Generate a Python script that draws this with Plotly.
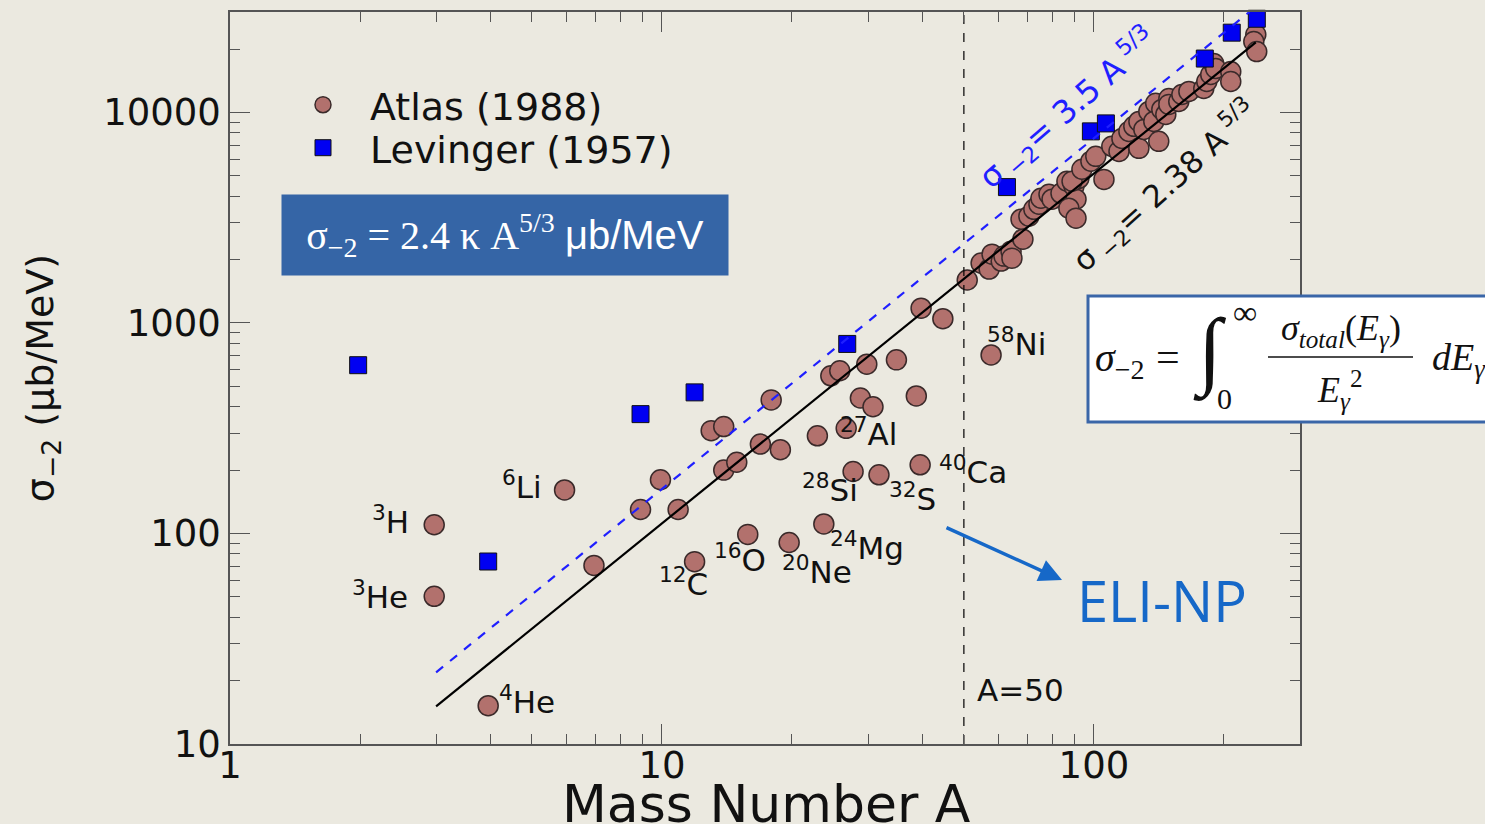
import plotly.graph_objects as go

# ---------------- data ----------------
atlas_A = [2.97, 2.97, 3.96, 5.95, 6.96, 8.92, 9.92, 10.9, 11.9, 13.0, 13.9, 13.9, 14.9, 15.8,
           16.9, 17.9, 18.8, 19.7, 22.9, 23.7, 24.6, 25.8, 26.7, 27.7, 28.8, 29.8, 30.8, 31.8,
           34.9, 38.8, 39.6, 39.8, 44.7, 57.8,
           50.9, 54.8, 57.2, 58.1, 61.0, 61.9, 64.3, 64.6, 68.5, 67.8, 70.7, 72.6, 74.6, 75.4,
           78.7, 80.0, 83.9, 86.6, 89.9, 90.9, 87.5, 90.9, 92.3, 89.0, 93.8, 98.4, 101, 105.5,
           110, 114.3, 116.1, 120.5, 123.7, 127.1, 127.1, 130.5, 134, 139, 137.6, 141.3, 143.6,
           146.7, 149.1, 149.1, 157.2, 159.8, 165.9, 179.6, 182.5, 186.4, 189.4, 191.4, 207.4,
           207.4, 237, 234.5, 238.2]
atlas_sigma = [110, 50.3, 15.2, 161, 70.5, 130, 180, 130, 73.5, 308, 322, 200, 218, 99,
               266, 431, 250, 90.6, 291, 111, 561, 593, 316, 197, 440, 637, 400, 190,
               668, 450, 212, 1175, 1048, 705,
               1600, 1925, 1803, 2123, 1968, 2078, 2193, 2032, 2500, 3110, 3215, 3467, 3664, 3911,
               4085, 3872, 4130, 4710, 4460, 3872, 3508, 3146, 4864, 4710, 5372, 5865, 6187, 4808,
               6904, 6530, 7530, 8128, 8590, 9064, 6750, 8300, 10110, 11050, 9064, 7289, 10330,
               9783, 11650, 10920, 11270, 12170, 12580, 12990, 14030, 15140, 17070, 16170, 15630,
               14030, 23430, 21700, 19450]

lev_A = [1.98, 3.96, 8.92, 11.9, 26.85, 62.9, 98.4, 106.6, 180.6, 208.5, 238.3]
lev_sigma = [630, 73.6, 369, 468, 795, 4420, 8130, 8870, 18030, 23930, 27860]

fit_atlas_A = [3, 237]          # sigma_-2 = 2.38 A^5/3 (end points)
fit_atlas_sigma = [15.1, 21500]
fit_lev_A = [3, 229]            # sigma_-2 = 3.5 A^5/3
fit_lev_sigma = [21.9, 30000]
cut_A = [50, 50]
cut_sigma = [10, 30000]

x_tickvals = [1, 10, 100]
x_ticktext = ["1", "10", "100"]
y_tickvals = [10, 100, 1000, 10000]
y_ticktext = ["10", "100", "1000", "10000"]

labels = [("<sup>3</sup>H", 370, 520), ("<sup>3</sup>He", 350, 595), ("<sup>4</sup>He", 497, 700),
          ("<sup>6</sup>Li", 500, 485), ("<sup>12</sup>C", 657, 582), ("<sup>16</sup>O", 712, 558),
          ("<sup>20</sup>Ne", 780, 570), ("<sup>24</sup>Mg", 828, 546), ("<sup>28</sup>Si", 800, 488),
          ("<sup>32</sup>S", 887, 497), ("<sup>27</sup>Al", 838, 432), ("<sup>40</sup>Ca", 937, 470),
          ("<sup>58</sup>Ni", 985, 342), ("A=50", 975, 690)]

# ---------------- layout helpers ----------------
W, H = 1485, 824
L, R, T, B = 230, 1300, 12, 744


def P(px, py):
    return (px - L) / (R - L), (B - py) / (B - T)


SANS = "DejaVu Sans"
SERIF = "Liberation Serif"
BG = "#ebe9e0"

fig = go.Figure()

fig.add_trace(go.Scatter(x=atlas_A, y=atlas_sigma, mode="markers", name="Atlas (1988)",
                         marker=dict(symbol="circle", size=20, color="#b2716d",
                                     line=dict(color="#3a2a2a", width=1.5)),
                         legend="legend", cliponaxis=False))
fig.add_trace(go.Scatter(x=lev_A, y=lev_sigma, mode="markers", name="Levinger (1957)",
                         marker=dict(symbol="square", size=17, color="#0000f2",
                                     line=dict(color="#111", width=1)),
                         legend="legend2", cliponaxis=False))
fig.add_trace(go.Scatter(x=fit_atlas_A, y=fit_atlas_sigma, mode="lines", showlegend=False,
                         line=dict(color="black", width=2.2)))
fig.add_trace(go.Scatter(x=fit_lev_A, y=fit_lev_sigma, mode="lines", showlegend=False,
                         line=dict(color="#1f1fff", width=2.2, dash="dash")))
fig.add_trace(go.Scatter(x=cut_A, y=cut_sigma, mode="lines", showlegend=False,
                         line=dict(color="black", width=1.2, dash="dash")))

axis_common = dict(showgrid=False, zeroline=False, showline=True, linecolor="#555",
                   linewidth=1.5, mirror="allticks", ticks="inside", ticklen=20,
                   tickcolor="#555", tickwidth=1.2, automargin=False,
                   tickfont=dict(family=SANS, size=37, color="#111"),
                   minor=dict(ticks="inside", ticklen=10, tickcolor="#555", tickwidth=1.2,
                              dtick="D1", showgrid=False))

fig.update_xaxes(type="log", range=[0, 2.4771], tickvals=x_tickvals, ticktext=x_ticktext,
                 ticklabelstandoff=-12, **axis_common)
fig.update_yaxes(type="log", range=[1, 4.4771], tickvals=y_tickvals, ticktext=y_ticktext,
                 title=dict(text="σ<sub>−2</sub> (μb/MeV)", font=dict(family=SANS, size=38, color="#111"),
                            standoff=38),
                 **axis_common)


def A(text, px, py, xa="center", ya="middle", **kw):
    x, y = P(px, py)
    d = dict(text=text, x=x, y=y, xref="paper", yref="paper", xanchor=xa, yanchor=ya,
             showarrow=False)
    d.update(kw)
    return d


ann = []
# x-axis title
ann.append(A("Mass Number A", 766, 804, font=dict(family=SANS, size=52, color="#111")))

for txt, px, py in labels:
    ann.append(A(txt, px, py, xa="left", font=dict(family=SANS, size=31, color="#111")))

# sloped fit labels
ann.append(A("σ<sub> −2</sub>= 3.5 A<sup> 5/3</sup>", 1068, 108, textangle=-41,
             font=dict(family=SANS, size=32, color="#1f1fff")))
ann.append(A("σ<sub> −2</sub>= 2.38 A<sup> 5/3</sup>", 1165, 186, textangle=-42,
             font=dict(family=SANS, size=31, color="#111")))

# blue box formula
ann.append(A("σ<sub>−2</sub> = 2.4 κ A<sup>5/3</sup> <span style='font-family:Liberation Sans'>μb/MeV</span>",
             505, 235, width=446, height=80, bgcolor="#3565a6", borderpad=0,
             font=dict(family=SERIF, size=40, color="white")))

# ELI-NP with arrow
ann.append(A("ELI-NP", 1162, 600, font=dict(family="Open Sans", size=56, color="#1668c8")))
x, y = P(1062, 580)
ann.append(dict(text="", x=x, y=y, xref="paper", yref="paper", showarrow=True,
                ax=-117, ay=-53, arrowhead=2, arrowsize=1.3, arrowwidth=3.5,
                arrowcolor="#1668c8"))

# integral definition box
FS = dict(family=SERIF, color="#111")
parts = [("<i>σ</i><sub>−2</sub>", 1120, 360, 40, "center"),
         ("=", 1168, 357, 42, "center"),
         ("∫", 1210, 352, 86, "center"),
         ("∞", 1245, 313, 34, "center"),
         ("0", 1224, 398, 30, "center"),
         ("<i>σ</i><sub><i>total</i></sub>(<i>E</i><sub><i>γ</i></sub>)", 1341, 330, 36, "center"),
         ("<i>E</i><sub><i>γ</i></sub><sup>2</sup>", 1340, 390, 36, "center"),
         ("<i>dE</i><sub><i>γ</i></sub>", 1430, 360, 38, "left")]
for txt, px, py, sz, xa in parts:
    ann.append(A(txt, px, py, xa=xa, font=dict(size=sz, **FS)))

x0, y0 = P(1088, 422)
x1, y1 = P(1510, 296)
fx0, fy = P(1268, 357)
fx1, _ = P(1413, 357)
shapes = [dict(type="rect", xref="paper", yref="paper", x0=x0, y0=y0, x1=x1, y1=y1,
               fillcolor="white", line=dict(color="#3a66a8", width=3), layer="above"),
          dict(type="line", xref="paper", yref="paper", x0=fx0, x1=fx1, y0=fy, y1=fy,
               line=dict(color="#111", width=1.5), layer="above")]

lx, ly1 = P(276, 105)
_, ly2 = P(276, 148)
leg_common = dict(xref="paper", yref="paper", x=lx, xanchor="left", yanchor="middle",
                  bgcolor="rgba(0,0,0,0)", borderwidth=0, itemwidth=84,
                  font=dict(family=SANS, size=38, color="#111"))

fig.update_layout(width=W, height=H, margin=dict(l=L, r=W - R, t=T, b=H - B, autoexpand=False),
                  paper_bgcolor=BG, plot_bgcolor=BG,
                  annotations=ann, shapes=shapes, showlegend=True,
                  legend=dict(y=ly1, **leg_common), legend2=dict(y=ly2, **leg_common))

fig.write_html("out.html", config={"displayModeBar": False},
               post_script="document.body.style.margin='0';document.body.style.overflow='hidden';"
                           "document.body.style.background='" + BG + "';")
